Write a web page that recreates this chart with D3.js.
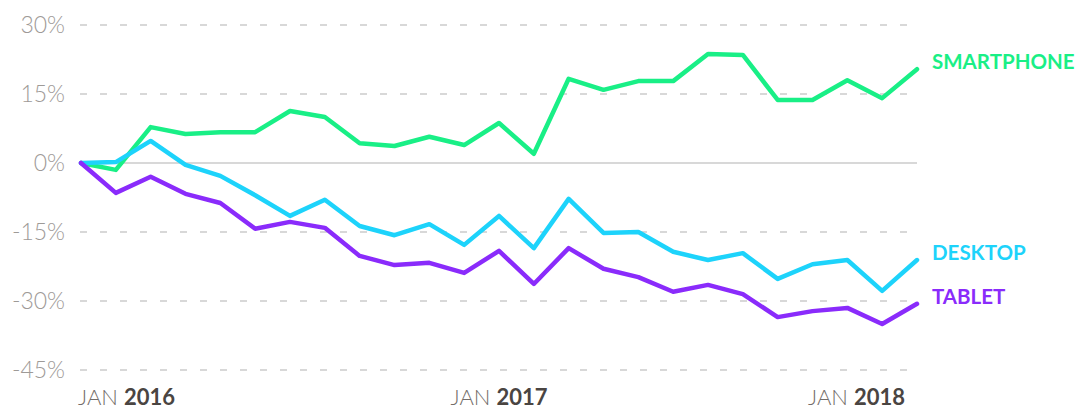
<!DOCTYPE html>
<html>
<head>
<meta charset="utf-8">
<script src="https://cdn.jsdelivr.net/npm/d3@7"></script>
<style>
  body { margin: 0; background: #fff; }
  svg { display: block; font-family: Lato, "Open Sans", sans-serif; }
</style>
</head>
<body>
<figure id="line" style="margin:0"></figure>
<script>
// monthly change since Jan 2016, in percent
const months = d3.range(25);
const smartphone = [0, -1.5, 7.8, 6.3, 6.7, 6.7, 11.3, 10.0, 4.3, 3.7, 5.7, 3.9, 8.7, 2.0, 18.3, 15.9, 17.8, 17.8, 23.7, 23.5, 13.7, 13.7, 18.0, 14.1, 20.4];
const desktop = [0, 0.2, 4.8, -0.4, -2.8, -7.0, -11.5, -8.0, -13.7, -15.7, -13.3, -17.8, -11.5, -18.5, -7.8, -15.2, -15.0, -19.3, -21.1, -19.6, -25.2, -22.0, -21.1, -27.8, -21.1];
const tablet = [0, -6.5, -3.0, -6.7, -8.7, -14.3, -12.8, -14.1, -20.2, -22.2, -21.7, -23.9, -19.1, -26.3, -18.5, -23.0, -24.8, -28.0, -26.5, -28.5, -33.5, -32.2, -31.5, -35.0, -30.6];
const seriesNames = ["SMARTPHONE", "DESKTOP", "TABLET"];
const seriesColors = ["#19ef86", "#1dd3fb", "#8a2bfb"];
const yTicks = [30, 15, 0, -15, -30, -45];
const xTickIdx = [0, 12, 24];
const xTickMonth = ["JAN", "JAN", "JAN"];
const xTickYear = ["2016", "2017", "2018"];

const W = 1088, H = 409;
const margin = { left: 81, right: 171, top: 25, bottom: 39 };

const svg = d3.select("figure#line").append("svg")
  .attr("width", W).attr("height", H);

const x = d3.scaleLinear().domain([0, 24]).range([margin.left, W - margin.right]);
const y = d3.scaleLinear().domain([-45, 30]).range([H - margin.bottom, margin.top]);

// gridlines
svg.append("g").selectAll("line")
  .data(yTicks)
  .enter().append("line")
  .attr("x1", x(0) - 1).attr("x2", x(24))
  .attr("y1", d => y(d)).attr("y2", d => y(d))
  .attr("stroke", "#cbcbcb")
  .attr("stroke-width", 1.3)
  .attr("stroke-dasharray", d => d === 0 ? null : "7,13");

// y labels
svg.append("g").selectAll("text")
  .data(yTicks)
  .enter().append("text")
  .attr("x", 65)
  .attr("y", d => y(d))
  .attr("dy", "0.35em")
  .attr("text-anchor", "end")
  .attr("fill", "#9e9a97")
  .style("font-size", "23px")
  .style("font-weight", 300)
  .text(d => d + "%");

// x labels
const anchors = ["start", "middle", "end"];
const xl = svg.append("g").selectAll("text")
  .data(xTickIdx)
  .enter().append("text")
  .attr("x", (d, i) => x(d) + (i === 0 ? -3 : i === 2 ? -12 : 0))
  .attr("y", 405)
  .attr("text-anchor", (d, i) => anchors[i])
  .style("font-size", "22px");
xl.append("tspan").attr("fill", "#736d69").style("font-weight", 300).text((d, i) => xTickMonth[i] + " ");
xl.append("tspan").attr("fill", "#4a4542").style("font-weight", 700).text((d, i) => xTickYear[i]);

// lines
const all = [smartphone, desktop, tablet];
const line = d3.line().x((d, i) => x(months[i])).y(d => y(d));
svg.append("g").selectAll("path")
  .data(all)
  .enter().append("path")
  .attr("d", d => line(d))
  .attr("fill", "none")
  .attr("stroke", (d, i) => seriesColors[i])
  .attr("stroke-width", 4.5)
  .attr("stroke-linejoin", "round")
  .attr("stroke-linecap", "round");

// end labels
svg.append("g").selectAll("text")
  .data(all)
  .enter().append("text")
  .attr("x", x(24) + 15)
  .attr("y", d => y(d[d.length - 1]) - 7)
  .attr("dy", "0.35em")
  .attr("fill", (d, i) => seriesColors[i])
  .style("font-size", "20.5px")
  .style("font-weight", 700)
  .text((d, i) => seriesNames[i]);
</script>
</body>
</html>
